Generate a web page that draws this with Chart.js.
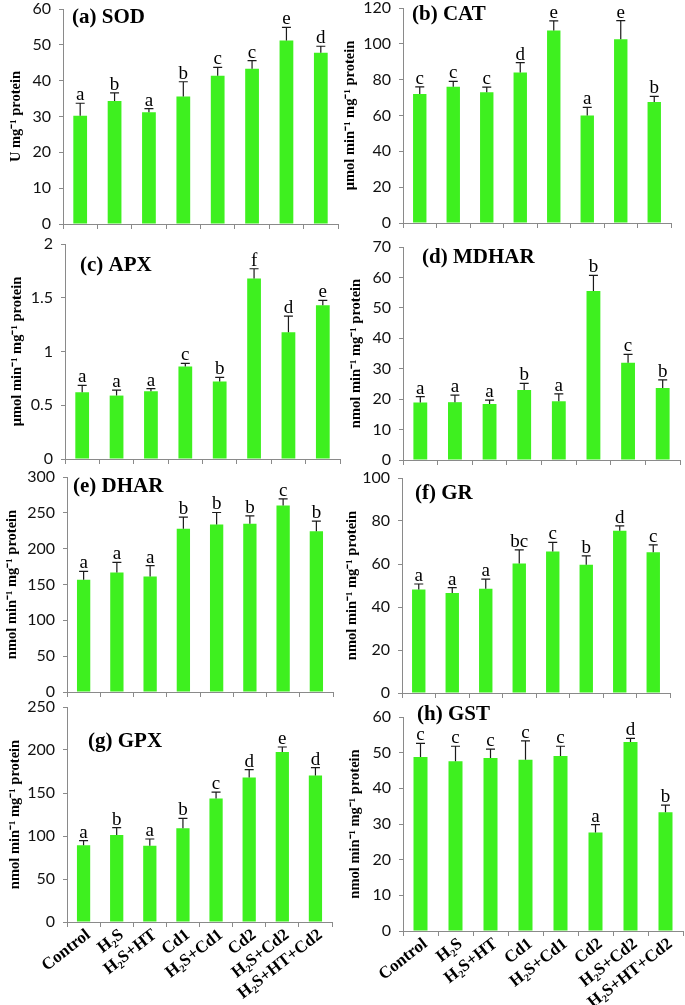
<!DOCTYPE html>
<html>
<head>
<meta charset="utf-8">
<script src="https://cdn.jsdelivr.net/npm/chart.js@4.4.1/dist/chart.umd.min.js"></script>
<style>
  body { margin: 0; background: #fff; width: 685px; height: 1005px; position: relative; overflow: hidden; }
  canvas { position: absolute; }
</style>
</head>
<body>
<script>
const tratamentos = ['Control', 'H₂S', 'H₂S+HT', 'Cd1', 'H₂S+Cd1', 'Cd2', 'H₂S+Cd2', 'H₂S+HT+Cd2'];

const sodMedia = [30.2, 34.3, 31.2, 35.6, 41.4, 43.3, 51.2, 47.8];
const sodErro = [3.5, 2.3, 1.0, 4.1, 2.3, 2.3, 3.7, 1.8];
const sodLetras = ['a', 'b', 'a', 'b', 'c', 'c', 'e', 'd'];

const catMedia = [72, 76, 73, 84, 107.5, 60, 102.5, 67.5];
const catErro = [4, 3, 2.8, 5.5, 5.3, 4.5, 10.5, 3.2];
const catLetras = ['c', 'c', 'c', 'd', 'e', 'a', 'e', 'b'];

const apxMedia = [0.62, 0.59, 0.63, 0.86, 0.72, 1.68, 1.18, 1.43];
const apxErro = [0.065, 0.05, 0.025, 0.03, 0.04, 0.09, 0.15, 0.045];
const apxLetras = ['a', 'a', 'a', 'c', 'b', 'f', 'd', 'e'];

const mdharMedia = [18.9, 19.0, 18.4, 23.0, 19.3, 55.5, 32.0, 23.7];
const mdharErro = [1.9, 2.3, 1.3, 2.2, 2.4, 5.2, 2.7, 2.6];
const mdharLetras = ['a', 'a', 'a', 'b', 'a', 'b', 'c', 'b'];

const dharMedia = [156.6, 166.8, 161.2, 227.7, 233.7, 234.7, 260.2, 224.4];
const dharErro = [11.6, 14, 15, 16.3, 16.8, 11.1, 9.3, 14];
const dharLetras = ['a', 'a', 'a', 'b', 'b', 'b', 'c', 'b'];

const grMedia = [48.1, 46.5, 48.5, 60.2, 65.8, 59.6, 75.5, 65.5];
const grErro = [2.6, 2.5, 4.5, 6.4, 4.3, 4.2, 2.2, 3.4];
const grLetras = ['a', 'a', 'a', 'bc', 'c', 'b', 'd', 'c'];

const gpxMedia = [89.2, 101.2, 88.8, 108.9, 143.6, 168, 197.7, 170.3];
const gpxErro = [5.4, 8.5, 7.7, 11.6, 7.4, 9.2, 5.8, 9.2];
const gpxLetras = ['a', 'b', 'a', 'b', 'c', 'd', 'e', 'd'];

const gstMedia = [48.8, 47.6, 48.5, 48.0, 49.1, 27.6, 53.0, 33.3];
const gstErro = [3.8, 4.2, 2.5, 5.3, 2.7, 2.2, 1.0, 2.0];
const gstLetras = ['c', 'c', 'c', 'c', 'c', 'a', 'd', 'b'];

const corBarra = '#3EF01F';
const corEixo = '#8a8a8a';
const fonteSerif = "'Liberation Serif', 'Times New Roman', serif";

const nmol = 'nmol min⁻¹ mg⁻¹ protein';
const umol = 'μmol min⁻¹ mg⁻¹ protein';

// area = [esquerda, topo, direita, base] da area de plotagem
const paineis = [
    { titulo: '(a) SOD', eixo: 'U mg⁻¹ protein', media: sodMedia, erro: sodErro, letras: sodLetras, max: 60, passo: 10, area: [63, 9, 338, 224], col: 0, padTitulo: 8, rotulo: [9, 9], baixo: false },
    { titulo: '(b) CAT', eixo: umol, media: catMedia, erro: catErro, letras: catLetras, max: 120, passo: 20, area: [403, 8, 671, 223], col: 1, padTitulo: 0, rotulo: [9, 7], baixo: false },
    { titulo: '(c) APX', eixo: umol, media: apxMedia, erro: apxErro, letras: apxLetras, max: 2, passo: 0.5, area: [65, 244, 340, 459], col: 0, padTitulo: 9, rotulo: [15, 22], baixo: false },
    { titulo: '(d) MDHAR', eixo: nmol, media: mdharMedia, erro: mdharErro, letras: mdharLetras, max: 70, passo: 10, area: [403, 247, 680, 460], col: 1, padTitulo: 6, rotulo: [19, 11], baixo: false },
    { titulo: '(e) DHAR', eixo: nmol, media: dharMedia, erro: dharErro, letras: dharLetras, max: 300, passo: 50, area: [67, 477, 333, 692], col: 0, padTitulo: 4, rotulo: [6, 10], baixo: false },
    { titulo: '(f) GR', eixo: nmol, media: grMedia, erro: grErro, letras: grLetras, max: 100, passo: 20, area: [402, 478, 670, 693], col: 1, padTitulo: 2, rotulo: [13, 16], baixo: false },
    { titulo: '(g) GPX', eixo: nmol, media: gpxMedia, erro: gpxErro, letras: gpxLetras, max: 250, passo: 50, area: [67, 707, 332, 922], col: 0, padTitulo: 7, rotulo: [21, 35], baixo: true },
    { titulo: '(h) GST', eixo: nmol, media: gstMedia, erro: gstErro, letras: gstLetras, max: 60, passo: 10, area: [403, 717, 683, 931], col: 1, padTitulo: 5, rotulo: [14, -2], baixo: true }
];

// barras de erro, letras e titulo do painel
const rotulos = {
    id: 'rotulos',
    afterDatasetsDraw(chart, args, opts) {
        const ctx = chart.ctx;
        const y = chart.scales.y;
        const meta = chart.getDatasetMeta(0);
        ctx.save();
        meta.data.forEach((barra, i) => {
            const base = y.getPixelForValue(opts.media[i]);
            const topo = y.getPixelForValue(opts.media[i] + opts.erro[i]);
            ctx.strokeStyle = '#1a1a1a';
            ctx.lineWidth = 1.2;
            ctx.beginPath();
            ctx.moveTo(barra.x, base);
            ctx.lineTo(barra.x, topo);
            ctx.moveTo(barra.x - 4.5, topo);
            ctx.lineTo(barra.x + 4.5, topo);
            ctx.stroke();
            ctx.fillStyle = '#000';
            ctx.font = '19px ' + fonteSerif;
            ctx.textAlign = 'center';
            ctx.textBaseline = 'alphabetic';
            ctx.fillText(opts.letras[i], barra.x, topo - 3);
        });
        ctx.font = 'bold 21px ' + fonteSerif;
        ctx.textAlign = 'left';
        ctx.textBaseline = 'middle';
        ctx.fillText(opts.titulo, chart.chartArea.left + opts.rotulo[0], chart.chartArea.top + opts.rotulo[1]);
        ctx.restore();
    }
};

paineis.forEach(p => {
    const [l, t, r, b] = p.area;
    const esquerda = p.col === 0 ? 0 : 342;
    const folgaTopo = 20;
    const topo = t - folgaTopo;
    const alturaX = p.baixo ? 84 : 7;
    const sobraBaixo = p.baixo ? 0 : 5;
    const larguraY = l - esquerda;

    const canvas = document.createElement('canvas');
    canvas.width = r - esquerda + 4;
    canvas.height = b - topo + alturaX + sobraBaixo;
    canvas.style.left = esquerda + 'px';
    canvas.style.top = topo + 'px';
    document.body.appendChild(canvas);

    new Chart(canvas, {
        type: 'bar',
        data: {
            labels: tratamentos,
            datasets: [{
                data: p.media,
                backgroundColor: corBarra,
                borderWidth: 0,
                barPercentage: 0.4,
                categoryPercentage: 1
            }]
        },
        options: {
            responsive: false,
            animation: false,
            devicePixelRatio: 1,
            layout: { padding: { top: folgaTopo, right: 4, left: 0, bottom: sobraBaixo } },
            plugins: {
                legend: { display: false },
                tooltip: { enabled: false },
                rotulos: { media: p.media, erro: p.erro, letras: p.letras, titulo: p.titulo, rotulo: p.rotulo }
            },
            scales: {
                x: {
                    afterFit(s) { s.height = alturaX; },
                    grid: { drawOnChartArea: false, drawTicks: true, tickLength: 5, color: corEixo, offset: true },
                    border: { display: true, color: corEixo, width: 1 },
                    ticks: {
                        display: p.baixo,
                        autoSkip: false,
                        minRotation: 38,
                        maxRotation: 38,
                        padding: -2,
                        labelOffset: 5,
                        color: '#000',
                        font: { family: fonteSerif, weight: 'bold', size: 17 }
                    }
                },
                y: {
                    min: 0,
                    max: p.max,
                    afterFit(s) {
                        s.width = larguraY;
                        // sem folga extra para os rotulos das pontas
                        s.paddingTop = 0;
                        s.paddingBottom = 0;
                    },
                    grid: { drawOnChartArea: false, drawTicks: true, tickLength: 4, color: corEixo },
                    border: { display: true, color: corEixo, width: 1 },
                    ticks: {
                        stepSize: p.passo,
                        padding: 8,
                        color: '#111',
                        font: { family: 'Lato', size: 16 },
                        callback: v => String(Math.round(v * 10) / 10)
                    },
                    title: {
                        display: true,
                        text: p.eixo,
                        color: '#000',
                        padding: { top: p.padTitulo, bottom: 0 },
                        font: { family: fonteSerif, weight: 'bold', size: 14.5 }
                    }
                }
            }
        },
        plugins: [rotulos]
    });
});
</script>
</body>
</html>
